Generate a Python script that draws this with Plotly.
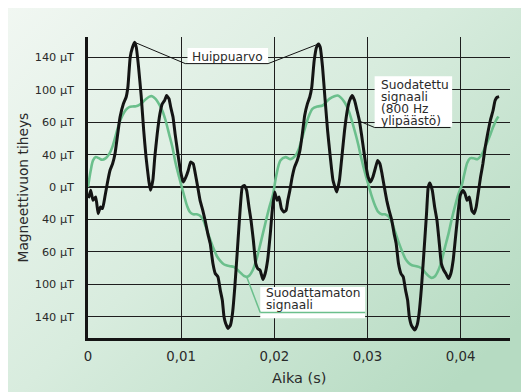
import base64
import numpy as np
import plotly.graph_objects as go

# ---------------- data ----------------
# time in milliseconds, flux density in µT (axis scale: one grid step = 35 units)
black_t_ms = [0.05, 0.29, 0.54, 0.83, 1.09, 1.34, 1.56, 1.81, 2.10, 2.36, 2.64, 2.90, 3.19, 3.44,
              3.80, 4.09, 4.28, 4.53, 4.78, 5.00, 5.18, 5.43, 5.72, 5.98, 6.23, 6.52, 6.70, 6.96,
              7.17, 7.43, 7.72, 7.97, 8.22, 8.44, 8.70, 8.88, 9.13, 9.35, 9.60, 9.86, 10.07, 10.25,
              10.51, 10.76, 11.01, 11.30, 11.52, 11.78, 12.03, 12.32, 12.57, 12.86, 13.12, 13.41,
              13.66, 13.95, 14.20, 14.42, 14.60, 14.78, 15.04, 15.29, 15.51, 15.76, 16.01, 16.30,
              16.56, 16.78, 17.03, 17.28, 17.50, 17.75, 18.01, 18.22, 18.48, 18.77, 19.02, 19.28,
              19.57, 19.78,
              20.04, 20.29, 20.51, 20.76, 21.01, 21.27, 21.45, 21.67, 21.92, 22.17, 22.46, 22.75,
              23.01, 23.26, 23.55, 23.80, 24.02, 24.28, 24.53, 24.75, 24.93, 25.18, 25.43, 25.72,
              26.01, 26.30, 26.70, 26.99, 27.25, 27.54, 27.83, 28.08, 28.37, 28.62, 28.88, 29.13,
              29.35, 29.60, 29.86, 30.07, 30.33, 30.58, 30.83, 31.09, 31.34, 31.56, 31.81, 32.07,
              32.32, 32.61, 32.86, 33.08, 33.33, 33.59, 33.84, 34.09, 34.31, 34.49, 34.71, 35.07,
              35.33, 35.54, 35.80, 36.05, 36.34, 36.52, 36.70, 36.96, 37.21, 37.46, 37.68, 37.93,
              38.19, 38.41, 38.70, 38.95, 39.20, 39.49, 39.75, 39.96,
              40.22, 40.47, 40.69, 40.94, 41.20, 41.45, 41.67, 41.88, 42.14, 42.39, 42.64, 42.90,
              43.19, 43.48, 43.70, 43.91, 44.13]
black_b = [-12.0, -3.6, -14.4, -10.8, -28.7, -21.5, -23.3, -10.8, 5.4, 17.9, 25.1, 35.9, 57.4, 75.4,
           89.8, 96.9, 107.7, 140.0, 150.8, 156.2, 150.8, 129.2, 96.9, 61.0, 32.3, 7.2, -3.6, 7.2,
           32.3, 57.4, 79.0, 89.8, 93.3, 98.7, 95.1, 86.2, 75.4, 57.4, 39.5, 21.5, 10.8, 5.4,
           10.8, 17.9, 26.9, 25.1, 14.4, 0.0, -14.4, -25.1, -35.9, -50.3, -61.0, -82.6,
           -93.3, -96.9, -111.3, -122.1, -140.0, -147.2, -152.6, -149.0, -136.4, -107.7, -71.8, -28.7,
           0.0, 1.8, -3.6, -21.5, -35.9, -57.4, -82.6, -88.0, -89.8, -99.8, -93.3, -79.0,
           -50.3, -25.1,
           -5.4, -14.4, -10.8, -23.3, -26.9, -25.1, -14.4, -3.6, 10.8, 21.5, 28.7, 39.5,
           57.4, 77.2, 89.8, 96.9, 107.7, 136.4, 150.8, 154.4, 150.8, 129.2, 96.9, 61.0,
           32.3, 7.2, -5.4, 7.2, 32.3, 61.0, 82.6, 93.3, 98.7, 93.3, 82.6, 71.8,
           57.4, 39.5, 21.5, 10.8, 5.4, 10.8, 19.7, 28.7, 25.1, 14.4, 0.0, -14.4,
           -25.1, -35.9, -50.3, -61.0, -82.6, -93.3, -96.9, -111.3, -122.1, -140.0, -149.0, -154.4,
           -149.0, -136.4, -107.7, -71.8, -28.7, 0.0, 4.3, -3.6, -21.5, -35.9, -57.4, -82.6,
           -89.8, -93.3, -98.7, -93.3, -79.0, -50.3, -25.1, -9.0,
           -3.6, -7.2, -14.4, -10.8, -25.1, -28.7, -21.5, -7.2, 10.8, 25.1, 43.1, 57.4,
           71.8, 82.6, 93.3, 96.9, 97.6]

green_t_ms = [0.00, 0.29, 0.54, 0.83, 1.16, 1.52, 1.88, 2.25, 2.61, 2.97, 3.33, 3.70, 4.06, 4.42,
              4.78, 5.14, 5.51, 5.87, 6.23, 6.59, 6.88, 7.25, 7.61, 7.97, 8.33, 8.70, 9.06, 9.42,
              9.78, 10.07, 10.36, 10.65, 10.94, 11.30, 11.67, 12.03, 12.39, 12.75, 13.12, 13.48,
              13.84, 14.20, 14.57, 14.93, 15.29, 15.65, 16.01, 16.38, 16.74, 17.03, 17.32, 17.68,
              18.04, 18.41, 18.77, 19.13, 19.49, 19.86,
              20.20, 20.65, 21.20, 21.74, 22.28, 22.64, 23.01, 23.37, 23.73, 24.09, 24.64, 25.18,
              25.54, 25.91, 26.45, 26.81, 27.17, 27.54, 27.90, 28.26, 28.62, 28.99, 29.35, 29.71,
              30.07, 30.43, 30.80, 31.16, 31.52, 31.88, 32.25, 32.61, 32.97, 33.33, 33.70, 34.06,
              34.42, 34.78, 35.14, 35.51, 35.87, 36.23, 36.59, 36.88, 37.25, 37.61, 37.97, 38.33,
              38.70, 39.06, 39.42, 39.78,
              40.15, 40.40, 40.70, 41.00, 41.40, 41.80, 42.20, 42.50, 42.80, 43.20, 43.50, 43.80,
              44.06]
green_b = [0.0, 17.9, 28.7, 32.3, 31.2, 29.4, 30.9, 35.2, 43.1, 55.6, 68.2, 77.2, 83.3, 86.2,
           86.9, 87.2, 88.7, 91.5, 95.1, 97.6, 98.0, 95.1, 89.8, 82.6, 71.8, 57.4, 43.1, 25.1,
           10.8, 0.0, -10.8, -20.8, -26.9, -29.4, -29.4, -30.9, -35.9, -46.0, -56.7, -66.4,
           -74.7, -79.7, -83.3, -84.7, -85.4, -86.2, -89.0, -92.6, -95.9, -96.9, -95.5, -89.8,
           -79.7, -65.3, -50.3, -35.2, -20.8, -7.9,
           12.0, 28.7, 32.3, 30.1, 34.1, 41.3, 53.9, 66.4, 77.2, 84.4, 86.9, 88.0,
           91.5, 95.1, 98.0, 98.7, 96.2, 91.5, 84.4, 73.6, 61.0, 46.7, 30.5, 16.2,
           3.6, -9.0, -19.7, -26.9, -29.4, -29.4, -31.6, -37.7, -48.5, -59.2, -68.9, -77.2,
           -81.9, -84.4, -85.1, -86.2, -88.3, -92.6, -96.2, -98.0, -96.2, -89.8, -79.0, -64.6,
           -50.3, -34.1, -19.7, -7.2,
           3.0, 14.0, 26.0, 31.0, 31.0, 30.0, 34.0, 40.0, 47.0, 57.0, 65.0, 72.0,
           76.0]

x_tick_vals = [0, 0.01, 0.02, 0.03, 0.04]
x_tick_text = ["0", "0,01", "0,02", "0,03", "0,04"]
y_tick_vals = [-140, -105, -70, -35, 0, 35, 70, 105, 140]
y_tick_text = ["140 µT", "100 µT", "60 µT", "40 µT", "0 µT", "40 µT", "60 µT", "100 µT", "140 µT"]

x_title = "Aika (s)"
y_title = "Magneettivuon tiheys"
label_peak = "Huippuarvo"
label_filtered = ["Suodatettu", "signaali", "(800 Hz", "ylipäästö)"]
label_unfiltered = ["Suodattamaton", "signaali"]

# ---------------- styling ----------------
BLACK = "#141414"
GREEN = "#6bbf8c"
TEXT = "#2a2a2a"
GRID = "#1e1e1e"
FONT = "DejaVu Sans"

bt = np.array(black_t_ms) / 1000.0
bb = np.array(black_b)
gt = np.array(green_t_ms) / 1000.0
gb = np.array(green_b)

fig = go.Figure()
fig.add_trace(go.Scatter(x=gt, y=gb, mode="lines",
                         line=dict(color=GREEN, width=2.6, shape="spline", smoothing=0.8),
                         hoverinfo="skip", showlegend=False))
fig.add_trace(go.Scatter(x=bt, y=bb, mode="lines",
                         line=dict(color=BLACK, width=3, shape="spline", smoothing=0.4),
                         hoverinfo="skip", showlegend=False))

# figure placed by the page at (8, 8); sizes are in figure pixels
W, H = 521, 384
ML, MR, MT, MB = 80, 19, 29, 54
PW, PH = W - ML - MR, H - MT - MB

svg = ('<svg xmlns="http://www.w3.org/2000/svg" width="%d" height="%d">'
       '<defs><linearGradient id="g" x1="0" y1="0" x2="1" y2="0.8">'
       '<stop offset="0" stop-color="#f1f7f2"/>'
       '<stop offset="0.5" stop-color="#d8ecde"/>'
       '<stop offset="1" stop-color="#b6dbc2"/>'
       '</linearGradient></defs>'
       '<rect width="%d" height="%d" fill="url(#g)"/></svg>') % (W, H, W, H)
svg_uri = "data:image/svg+xml;base64," + base64.b64encode(svg.encode()).decode()

# peaks in each half of the black series
half = bt < 0.02
i1 = int(np.argmax(np.where(half, bb, -1e9)))
i2 = int(np.argmax(np.where(~half, bb, -1e9)))
p1 = (bt[i1], bb[i1])
p2 = (bt[i2], bb[i2])
# green minimum in first period
gi = int(np.argmin(np.where(gt < 0.02, gb, 1e9)))
gmin = (gt[gi], gb[gi])
# point on black curve for the filtered-signal leader
lx = 0.02914
ly = float(np.interp(lx, bt, bb))

shapes = [
    # white boxes behind labels (between gridlines and traces)
    dict(type="rect", xref="x", yref="y", x0=0.01068, x1=0.01933, y0=133.5, y1=150,
         fillcolor="white", line=dict(width=0), layer="between"),
    dict(type="rect", xref="x", yref="y", x0=0.03077, x1=0.03909, y0=65, y1=119.5,
         fillcolor="white", line=dict(width=0), layer="between"),
    dict(type="rect", xref="x", yref="y", x0=0.01849, x1=0.02975, y0=-141.5, y1=-108,
         fillcolor="white", line=dict(width=0), layer="between"),
    # Huippuarvo leaders + underline
    dict(type="line", xref="x", yref="y", x0=p1[0], y0=p1[1], x1=0.01044, y1=133.2,
         line=dict(color=BLACK, width=1)),
    dict(type="line", xref="x", yref="y", x0=0.01044, y0=133.2, x1=0.01934, y1=133.2,
         line=dict(color=BLACK, width=1)),
    dict(type="line", xref="x", yref="y", x0=0.01934, y0=133.2, x1=p2[0], y1=p2[1],
         line=dict(color=BLACK, width=1)),
    # filtered signal leader + underline
    dict(type="line", xref="x", yref="y", x0=lx, y0=ly, x1=0.03077, y1=64.2,
         line=dict(color=BLACK, width=1)),
    dict(type="line", xref="x", yref="y", x0=0.03077, y0=64.2, x1=0.03891, y1=64.2,
         line=dict(color=BLACK, width=1)),
    # unfiltered signal leader + underline (green)
    dict(type="line", xref="x", yref="y", x0=gmin[0], y0=gmin[1], x1=0.01849, y1=-135.3,
         line=dict(color=GREEN, width=1.5)),
    dict(type="line", xref="x", yref="y", x0=0.01849, y0=-135.3, x1=0.02975, y1=-135.3,
         line=dict(color=GREEN, width=1.5)),
]

annotations = [
    dict(x=0.01098, y=140.5, xref="x", yref="y", text=label_peak, showarrow=False,
         xanchor="left", yanchor="middle", font=dict(family=FONT, size=12.2, color=TEXT)),
]
for txt, yy in zip(label_filtered, [110.6, 97.5, 84.2, 71.0]):
    annotations.append(dict(x=0.03129, y=yy, xref="x", yref="y", text=txt, showarrow=False,
                            xanchor="left", yanchor="middle",
                            font=dict(family=FONT, size=12.2, color=TEXT)))
for txt, yy in zip(label_unfiltered, [-114.2, -127.6]):
    annotations.append(dict(x=0.01884, y=yy, xref="x", yref="y", text=txt, showarrow=False,
                            xanchor="left", yanchor="middle",
                            font=dict(family=FONT, size=12.2, color=TEXT)))
# axis titles (positions in figure pixels converted to paper units)
annotations.append(dict(x=0.5, y=-(370 - (H - MB)) / PH, xref="paper", yref="paper", text=x_title,
                        showarrow=False, xanchor="center", yanchor="middle",
                        font=dict(family=FONT, size=14.5, color=TEXT)))
annotations.append(dict(x=-(ML - 14) / PW, y=0.5, xref="paper", yref="paper", text=y_title,
                        showarrow=False, xanchor="center", yanchor="middle", textangle=-90,
                        font=dict(family=FONT, size=13.8, color=TEXT)))

fig.update_layout(
    width=W, height=H,
    margin=dict(l=ML, r=MR, t=MT, b=MB, pad=0),
    paper_bgcolor="#dcefe2", plot_bgcolor="white",
    font=dict(family=FONT, color=TEXT),
    shapes=shapes, annotations=annotations,
    images=[dict(source=svg_uri, xref="paper", yref="paper", x=-ML / PW, y=1 + MT / PH,
                 sizex=W / PW, sizey=H / PH, sizing="stretch", xanchor="left", yanchor="top",
                 layer="below")],
    showlegend=False,
)
fig.update_xaxes(range=[0, 0.0453], tickvals=x_tick_vals, ticktext=x_tick_text,
                 showgrid=True, gridcolor=GRID, gridwidth=1.4, zeroline=False,
                 showline=True, linecolor=BLACK, linewidth=2.5,
                 ticks="outside", ticklen=4, tickcolor="rgba(0,0,0,0)",
                 tickfont=dict(family=FONT, size=13.3, color=TEXT))
fig.update_yaxes(range=[-162.9, 161.9], tickvals=y_tick_vals, ticktext=y_tick_text,
                 showgrid=True, gridcolor=GRID, gridwidth=1.4,
                 zeroline=True, zerolinecolor=GRID, zerolinewidth=1.8,
                 showline=True, linecolor=BLACK, linewidth=2.5,
                 ticks="outside", ticklen=9, tickcolor="rgba(0,0,0,0)",
                 tickfont=dict(family=FONT, size=11.3, color=TEXT))

fig.write_html("out.html")
